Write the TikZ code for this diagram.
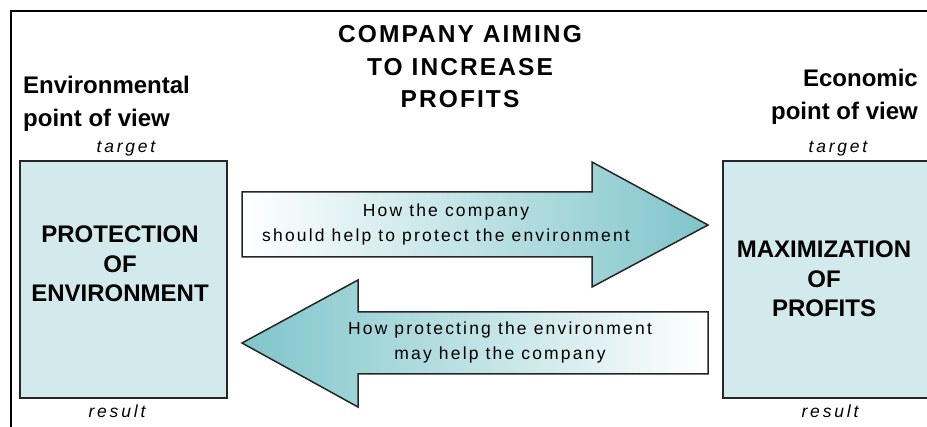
\documentclass[tikz,border=0pt]{standalone}
\usepackage{fontspec}
\setmainfont{Liberation Sans}
\newfontfamily\titlefont[LetterSpace=8.5]{Liberation Sans}
\newfontfamily\arrowfont[LetterSpace=12.5]{Liberation Sans}
\newfontfamily\tagfont[LetterSpace=16]{Liberation Sans}
\definecolor{boxfill}{HTML}{D3EAED}
\definecolor{tealc}{HTML}{7FC5CA}
\definecolor{edgec}{HTML}{262626}
\begin{document}
\begin{tikzpicture}[x=1pt,y=-1pt,
  frameline/.style={line width=2pt, draw=black},
  bigbox/.style={draw=edgec, line width=2pt, fill=boxfill},
  boxtext/.style={font=\fontsize{24}{29.5}\selectfont\bfseries, align=center, anchor=base, inner sep=0pt},
  sidelabel/.style={font=\fontsize{24}{33}\selectfont\bfseries, inner sep=0pt},
  titletext/.style={font=\titlefont\bfseries\fontsize{24.5}{32.5}\selectfont, align=center, anchor=base, inner sep=0pt},
  tagtext/.style={font=\tagfont\itshape\fontsize{17.5}{20}\selectfont, anchor=base, inner sep=0pt},
  arrowtext/.style={font=\arrowfont\fontsize{17.5}{25}\selectfont, align=center, anchor=base, inner sep=0pt},
  blockarrow/.style={draw=edgec, line width=1.5pt, line join=miter}
]
\useasboundingbox (0,0) rectangle (927,427);
\clip (0,0) rectangle (927,427);
\fill[white] (0,0) rectangle (927,427);
% frame
\coordinate (ftr) at (935,11);
\coordinate (ftl) at (11,11);
\coordinate (fbl) at (11,435);
\draw[frameline] (ftr) -- (ftl) -- (fbl);

% title (anchor = baseline of last line)
\node[titletext] (title) at (460,108) {COMPANY AIMING\\TO INCREASE\\PROFITS};

% side labels
\node[sidelabel, anchor=base west] (envl1) at (23,94) {Environmental};
\node[sidelabel, anchor=base west] (envl2) at (23,127) {point of view};
\node[sidelabel, anchor=base east] (ecol1) at (918,87) {Economic};
\node[sidelabel, anchor=base east] (ecol2) at (918,120) {point of view};

% tags
\node[tagtext] (tgl) at (126,153) {target};
\node[tagtext] (tgr) at (838,153) {target};
\node[tagtext] (rsl) at (117,418) {result};
\node[tagtext] (rsr) at (830,418) {result};

% boxes
\draw[bigbox] (20,161) rectangle (227,398);
\draw[bigbox] (723,161) rectangle (940,398);
\node[boxtext] (protect) at (120,302) {PROTECTION\\OF\\ENVIRONMENT};
\node[boxtext] (maxim) at (824,317) {MAXIMIZATION\\OF\\PROFITS};

% top arrow (to the right)
\path[blockarrow, left color=white, middle color=tealc!30!white, right color=tealc]
  (242,192) -- (592,192) -- (592,162) -- (708,225) -- (592,287) -- (592,257) -- (242,257) -- cycle;
% bottom arrow (to the left)
\path[blockarrow, left color=tealc, middle color=tealc!30!white, right color=white]
  (708,312) -- (358,312) -- (358,280) -- (242,343) -- (358,407) -- (358,374) -- (708,374) -- cycle;

\node[arrowtext] (txtA) at (446,242) {How the company\\should help to protect the environment};
\node[arrowtext] (txtB) at (500,360) {How protecting the environment\\may help the company};
\end{tikzpicture}
\end{document}
